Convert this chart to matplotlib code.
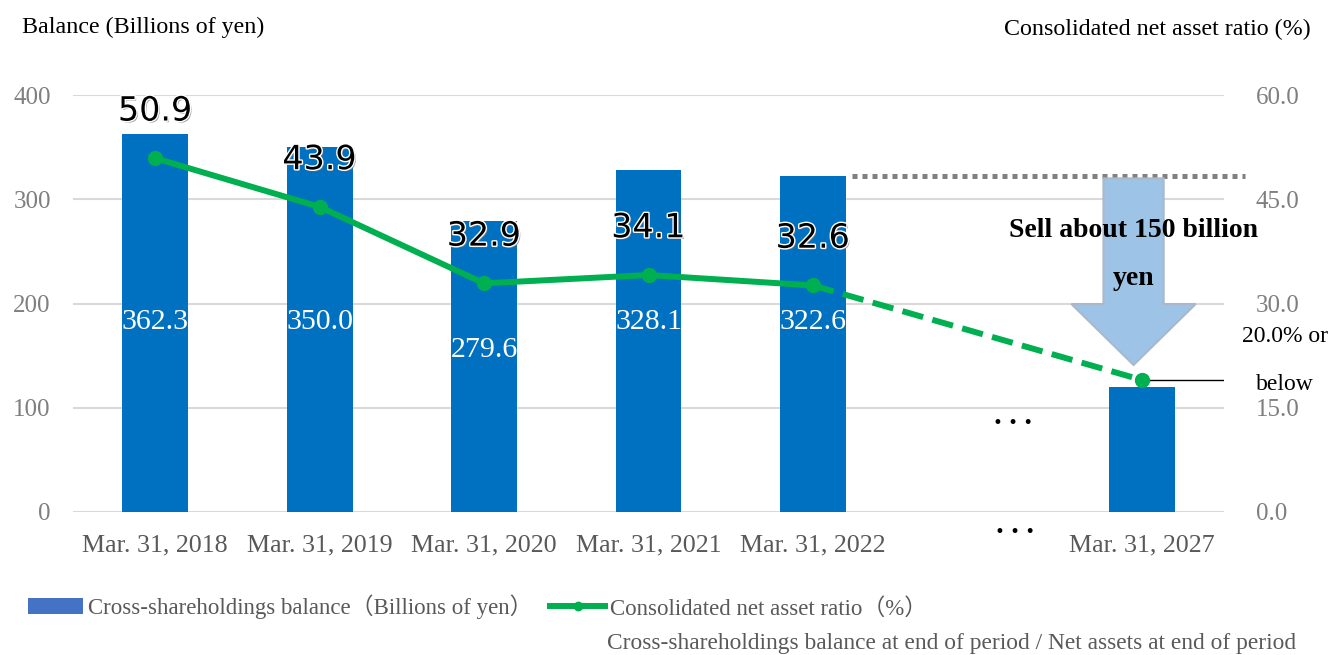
import matplotlib
matplotlib.use("Agg")
import matplotlib.pyplot as plt
import matplotlib.patheffects as pe
from matplotlib.patches import Patch, Polygon
from matplotlib.lines import Line2D
import numpy as np

# data
categories = ["Mar. 31, 2018", "Mar. 31, 2019", "Mar. 31, 2020", "Mar. 31, 2021",
              "Mar. 31, 2022", "", "Mar. 31, 2027"]
balance = [362.3, 350.0, 279.6, 328.1, 322.6, None, 120.0]
balance_labels = ["362.3", "350.0", "279.6", "328.1", "322.6", None, None]
ratio = [50.9, 43.9, 32.9, 34.1, 32.6, None, 19.0]
ratio_labels = ["50.9", "43.9", "32.9", "34.1", "32.6", None, None]
left_ticks = [0, 100, 200, 300, 400]
right_ticks = [0.0, 15.0, 30.0, 45.0, 60.0]

serif = ["Liberation Serif", "Noto Sans CJK JP"]
plt.rcParams["font.family"] = serif

BAR = "#0070C0"
GREEN = "#00B050"
GRID = "#D9D9D9"
TICK = "#7F7F7F"

fig = plt.figure(figsize=(13.31, 6.55), dpi=100)
ax = fig.add_axes([73 / 1331, 143 / 655, 1151 / 1331, 417 / 655])
ax2 = ax.twinx()

x = np.arange(len(categories))
bx = [i for i, v in enumerate(balance) if v is not None]
bv = [balance[i] for i in bx]
ax.bar(bx, bv, width=0.4, color=BAR, zorder=2)

# bar value labels (white, inside bars)
for i in bx:
    if balance_labels[i]:
        ax.text(i, min(182, balance[i] - 124), balance_labels[i], ha="center", va="center",
                color="white", fontsize=21.5, zorder=3)

ax.set_xlim(-0.5, 6.5)
ax.set_ylim(0, 400)
ax.set_yticks(left_ticks)
ax.set_yticklabels([str(t) for t in left_ticks])
ax.set_xticks(x)
ax.set_xticklabels(categories)
ax.tick_params(axis="y", length=0, pad=16, labelsize=18, labelcolor=TICK)
ax.tick_params(axis="x", length=0, pad=16, labelsize=18.7, labelcolor="#595959")
ax.grid(axis="y", color=GRID, linewidth=1.5, zorder=0)
ax.set_axisbelow(True)
for s in ax.spines.values():
    s.set_visible(False)

ax2.set_ylim(0, 60)
ax2.set_yticks(right_ticks)
ax2.set_yticklabels([f"{t:.1f}" for t in right_ticks])
ax2.tick_params(axis="y", length=0, pad=23, labelsize=18, labelcolor=TICK)
for s in ax2.spines.values():
    s.set_visible(False)

# ratio line: solid for actuals, dashed toward target
rx = [i for i in range(5)]
ry = [ratio[i] for i in rx]
ax2.plot(rx, ry, color=GREEN, lw=4.3, marker="o", ms=10, zorder=4,
         solid_capstyle="round")
ax2.plot([4, 6], [ratio[4], ratio[6]], color=GREEN, lw=4.3, ls=(0, (3.6, 1.6)), zorder=4)
ax2.plot([6], [ratio[6]], color=GREEN, marker="o", ms=10, zorder=5)

for i in rx:
    ax2.annotate(ratio_labels[i], (i, ratio[i]), xytext=(0, 34), textcoords="offset points",
                 ha="center", va="center", fontsize=24, family="DejaVu Sans", color="black",
                 path_effects=[pe.withSimplePatchShadow(offset=(1.2, -1.2), shadow_rgbFace="#808080",
                                                        alpha=0.8),
                               pe.withStroke(linewidth=2, foreground="white")], zorder=6)

# reference line from target point to the right axis
ax2.plot([6.05, 6.5], [ratio[6], ratio[6]], color="black", lw=1, zorder=3)

# dotted level line at the 2022 balance
ax.plot([4.24, 6.63], [balance[4], balance[4]], color="#808080", lw=3.6,
        ls=(0, (1, 1)), dash_capstyle="butt", clip_on=False, zorder=3)

# down arrow
cx = 5.95
arrow = Polygon([(cx - 0.183, 320), (cx + 0.183, 320), (cx + 0.183, 199.5),
                 (cx + 0.378, 199.5), (cx, 141), (cx - 0.378, 199.5), (cx - 0.183, 199.5)],
                closed=True, facecolor="#9DC3E6", edgecolor="#A9B8CC", lw=1.5, zorder=3)
ax.add_patch(arrow)
ax.text(cx, 270, "Sell about 150 billion", ha="center", va="center", fontsize=20,
        fontweight="bold", zorder=6)
ax.text(cx, 224, "yen", ha="center", va="center", fontsize=20, fontweight="bold", zorder=6)

ax.text(6.87, 168, "20.0% or", ha="center", va="center", fontsize=17, clip_on=False)
ax.text(6.87, 122, "below", ha="center", va="center", fontsize=17, clip_on=False)

# ellipsis markers for skipped years
ax.text(5.22, 85, "• • •", ha="center", va="center", fontsize=12, family="DejaVu Sans")
ax.text(5.23, -19, "• • •", ha="center", va="center", fontsize=12, family="DejaVu Sans",
        clip_on=False)

# axis titles
fig.text(22 / 1331, 1 - 27 / 655, "Balance (Billions of yen)", ha="left", va="center",
         fontsize=17.3)
fig.text(1311 / 1331, 1 - 29 / 655, "Consolidated net asset ratio (%)", ha="right",
         va="center", fontsize=17.3)

# legend
handles = [Patch(facecolor="#4472C4"),
           Line2D([0], [0], color=GREEN, lw=4.3, marker="o", ms=6)]
labels = ["Cross-shareholdings balance（Billions of yen）", "Consolidated net asset ratio（%）"]
fig.legend(handles, labels, loc="center left", bbox_to_anchor=(28 / 1331, 1 - 607 / 655),
           ncol=2, frameon=False, fontsize=16.5, handlelength=2.4, handletextpad=0.2,
           columnspacing=0.8, borderaxespad=0, borderpad=0, labelcolor="#595959")

fig.text(607 / 1331, 1 - 643 / 655,
         "Cross-shareholdings balance at end of period / Net assets at end of period",
         ha="left", va="center", fontsize=16.8, color="#595959")

fig.savefig("out.png", dpi=100)
